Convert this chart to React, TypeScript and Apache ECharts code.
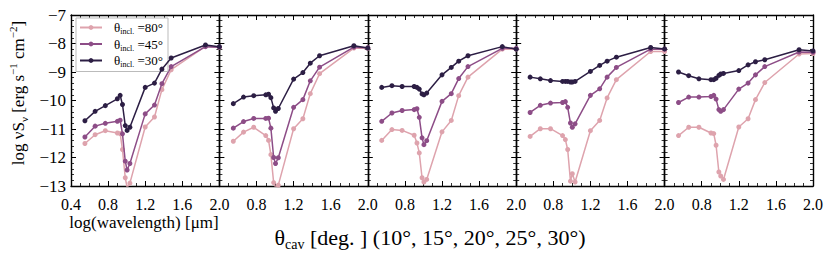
import React, { useEffect, useRef } from "react";
import * as echarts from "echarts";

const X = [0.55, 0.66, 0.77, 0.9, 0.93, 0.955, 0.985, 1.005, 1.035, 1.2, 1.3, 1.38, 1.48, 1.85, 2.0];

const names = ["80", "45", "30"];
const colors = ["#dea3ad", "#8d4d87", "#2c1e44"];

// panel data: [80°, 45°, 30°]
const p1_80 = [-11.51, -11.2, -11.06, -11.14, -11.16, -11.72, -12.71, -13.05, -12.9, -10.93, -10.58, -9.62, -8.92, -8.1, -8.13];
const p1_45 = [-11.28, -10.9, -10.8, -10.73, -10.69, -11.17, -12.13, -12.44, -12.21, -10.47, -10.16, -9.41, -8.81, -8.11, -8.13];
const p1_30 = [-10.71, -10.38, -10.18, -9.94, -9.82, -10.14, -10.88, -11.05, -10.94, -9.54, -9.39, -8.9, -8.51, -8.05, -8.11];

const p2_80 = [-11.43, -11.11, -10.94, -11.23, -11.4, -11.9, -12.88, -13.05, -12.97, -10.99, -10.64, -9.76, -9.06, -8.16, -8.17];
const p2_45 = [-10.97, -10.74, -10.63, -10.63, -10.62, -10.97, -12.0, -12.21, -12.01, -10.24, -9.97, -9.31, -8.83, -8.13, -8.15];
const p2_30 = [-10.11, -9.88, -9.83, -9.8, -9.78, -9.9, -10.26, -10.38, -10.28, -9.25, -9.02, -8.69, -8.43, -8.08, -8.16];

const p3_80 = [-11.4, -11.02, -11.05, -11.22, -11.49, -11.84, -12.71, -12.86, -12.77, -11.1, -10.7, -9.83, -9.18, -8.2, -8.2];
const p3_45 = [-10.73, -10.44, -10.35, -10.32, -10.29, -10.59, -11.31, -11.55, -11.41, -10.03, -9.76, -9.23, -8.81, -8.17, -8.17];
const p3_30 = [-9.54, -9.48, -9.51, -9.51, -9.54, -9.6, -9.77, -9.8, -9.74, -9.1, -8.84, -8.62, -8.43, -8.11, -8.2];

const p4_80 = [-11.26, -10.99, -10.99, -11.23, -11.37, -11.72, -12.83, -12.57, -12.86, -11.06, -10.7, -9.91, -9.27, -8.28, -8.28];
const p4_45 = [-10.42, -10.17, -10.09, -10.07, -10.04, -10.24, -10.79, -10.94, -10.82, -9.82, -9.59, -9.18, -8.84, -8.2, -8.2];
const p4_30 = [-9.18, -9.24, -9.3, -9.33, -9.33, -9.33, -9.35, -9.35, -9.33, -8.98, -8.77, -8.62, -8.48, -8.14, -8.19];

const p5_80 = [-11.23, -10.94, -10.94, -11.14, -11.16, -11.57, -12.51, -12.65, -12.77, -10.93, -10.64, -9.97, -9.37, -8.37, -8.35];
const p5_45 = [-10.07, -9.88, -9.88, -9.86, -9.82, -9.95, -10.32, -10.38, -10.32, -9.6, -9.39, -9.1, -8.81, -8.3, -8.31];
const p5_30 = [-9.0, -9.13, -9.24, -9.27, -9.27, -9.22, -9.12, -9.07, -9.05, -8.95, -8.75, -8.64, -8.57, -8.22, -8.26];

const panels = [
  [p1_80, p1_45, p1_30],
  [p2_80, p2_45, p2_30],
  [p3_80, p3_45, p3_30],
  [p4_80, p4_45, p4_30],
  [p5_80, p5_45, p5_30],
];

const xTicks = [0.4, 0.8, 1.2, 1.6, 2.0];
const yTicks = [-13, -12, -11, -10, -9, -8, -7];

const FONT = "Liberation Serif";

export default function App() {
  const ref = useRef<HTMLDivElement>(null);
  useEffect(() => {
    if (!ref.current) return;
    const chart = echarts.init(ref.current, null, { renderer: "svg" });
    const L0 = 71;
    const W = 148.4;
    const TOP = 15;
    const H = 171;
    const grids: any[] = [];
    const xAxes: any[] = [];
    const yAxes: any[] = [];
    const series: any[] = [];
    const axisLine = { show: true, lineStyle: { color: "#000", width: 1.4 } };
    const tick = { show: true, inside: true, length: 5, lineStyle: { color: "#000", width: 1 } };
    const minor = { show: true, splitNumber: 4, length: 3, lineStyle: { color: "#000", width: 0.8 } };
    const yminor = { ...minor, splitNumber: 5 };
    panels.forEach((pd, i) => {
      grids.push({ left: L0 + i * W, width: W, top: TOP, height: H, containLabel: false });
      const xBase = {
        gridIndex: i, type: "value", min: xTicks[0], max: xTicks[xTicks.length - 1], interval: 0.4,
        axisLine, axisTick: tick, minorTick: minor, splitLine: { show: false },
      };
      xAxes.push({
        ...xBase, position: "bottom",
        axisLabel: {
          show: true, margin: 10, color: "#000", fontFamily: FONT, fontSize: 16,
          showMinLabel: true, showMaxLabel: true,
          formatter: (v: number) => (i > 0 && Math.abs(v - 0.4) < 1e-6 ? "" : v.toFixed(1)),
        },
      });
      xAxes.push({ ...xBase, position: "top", axisLabel: { show: false } });
      const yBase = {
        gridIndex: i, type: "value", min: yTicks[0], max: yTicks[yTicks.length - 1], interval: 1,
        axisLine, axisTick: tick, minorTick: yminor, splitLine: { show: false },
      };
      yAxes.push({
        ...yBase, position: "left",
        axisLabel: {
          show: i === 0, margin: 5, color: "#000", fontFamily: FONT, fontSize: 17,
          showMinLabel: true, showMaxLabel: true,
          formatter: (v: number) => String(v).replace("-", "\u2212"),
        },
      });
      yAxes.push({ ...yBase, position: "right", axisLabel: { show: false } });
      pd.forEach((vals, k) => {
        series.push({
          type: "line",
          name: names[k],
          xAxisIndex: 2 * i,
          yAxisIndex: 2 * i,
          data: X.map((x, j) => [x, vals[j]]),
          symbol: "circle",
          symbolSize: 5,
          showSymbol: true,
          clip: true,
          z: 2 + k,
          lineStyle: { color: colors[k], width: 1.5 },
          itemStyle: { color: colors[k] },
        });
      });
    });
    const option: any = {
      animation: false,
      textStyle: { fontFamily: FONT },
      grid: grids,
      xAxis: xAxes,
      yAxis: yAxes,
      series,
      legend: {
        data: [...names],
        orient: "vertical",
        left: 76,
        top: 18,
        itemWidth: 22,
        itemHeight: 6,
        itemGap: 2,
        padding: [3, 5, 3, 3],
        borderColor: "#bbb",
        borderWidth: 1,
        backgroundColor: "#fff",
        selectedMode: false,
        formatter: (n: string) => `{g|}{a|\u03b8}{s|incl.}{a| =${n}\u00b0}`,
        textStyle: {
          fontFamily: FONT,
          color: "#000",
          fontSize: 13,
          rich: {
            g: { width: 7 },
            a: { fontFamily: FONT, fontSize: 13, color: "#000", lineHeight: 16 },
            s: { fontFamily: FONT, fontSize: 8, color: "#000", verticalAlign: "bottom" },
          },
        },
      },
      graphic: [
        {
          type: "text",
          x: 18,
          y: 93,
          rotation: Math.PI / 2,
          style: {
            text: "{n|log \u03bdS}{s|\u03bd}{n| [erg s}{p|\u22121}{n| cm}{p|\u22122}{n|]}",
            align: "center",
            verticalAlign: "middle",
            fill: "#000",
            rich: {
              n: { fontFamily: FONT, fontSize: 17, fill: "#000", lineHeight: 22 },
              s: { fontFamily: FONT, fontSize: 11, fill: "#000", verticalAlign: "bottom" },
              p: { fontFamily: FONT, fontSize: 11, fill: "#000", verticalAlign: "top" },
            },
          },
        },
        {
          type: "text",
          x: 144,
          y: 222,
          style: {
            text: "log(wavelength) [\u03bcm]",
            align: "center",
            verticalAlign: "middle",
            fill: "#000",
            fontFamily: FONT,
            fontSize: 17,
          },
        },
        {
          type: "text",
          x: 430,
          y: 237,
          style: {
            text: "{n|\u03b8}{s|cav}{n| [deg. ] (10\u00b0, 15\u00b0, 20\u00b0, 25\u00b0, 30\u00b0)}",
            align: "center",
            verticalAlign: "middle",
            fill: "#000",
            rich: {
              n: { fontFamily: FONT, fontSize: 22, fill: "#000", lineHeight: 28 },
              s: { fontFamily: FONT, fontSize: 14, fill: "#000", verticalAlign: "bottom" },
            },
          },
        },
      ],
    };
    chart.setOption(option);
    return () => chart.dispose();
  }, []);
  return (
    <div
      ref={ref}
      style={{ position: "fixed", left: 0, top: 0, width: 831, height: 255, background: "#fff" }}
    />
  );
}
